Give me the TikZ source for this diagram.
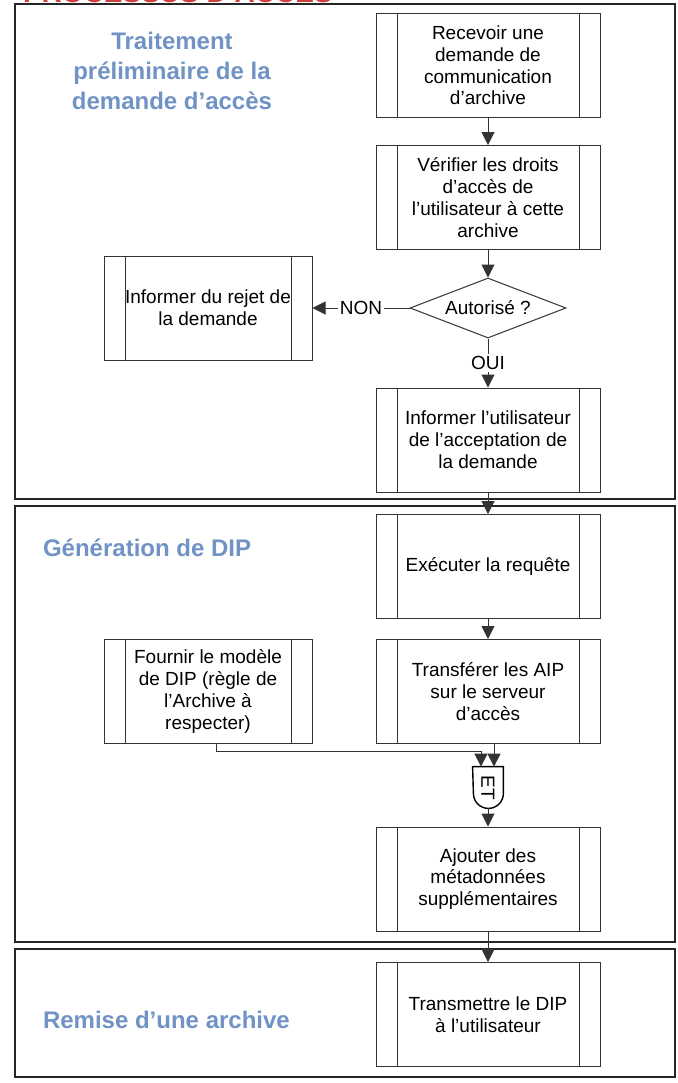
\documentclass[tikz,border=0pt]{standalone}
\usepackage{fontspec}
\setmainfont{Liberation Sans}
\usetikzlibrary{arrows.meta,shapes.geometric}
\definecolor{titleblue}{RGB}{112,146,196}
\definecolor{titlered}{RGB}{206,62,58}

\begin{document}
\begin{tikzpicture}[x=0.5pt,y=-0.5pt,
   every node/.style={font=\fontsize{9.5}{10.9}\selectfont},
   proc/.style={draw=black!80, line width=0.5pt, minimum width=112pt, minimum height=52pt, align=center, inner sep=0pt,
     path picture={\draw[black!80, line width=0.5pt]
       ([xshift=10.5pt]path picture bounding box.north west) -- ([xshift=10.5pt]path picture bounding box.south west)
       ([xshift=-10.5pt]path picture bounding box.north east) -- ([xshift=-10.5pt]path picture bounding box.south east);}},
   phase/.style={draw=black!85, line width=0.75pt},
   phasename/.style={font=\fontsize{12}{15}\selectfont\bfseries, text=titleblue, align=center},
   link/.style={draw=black!80, line width=0.5pt, -{Triangle[length=6.5pt,width=6.5pt]}}]
   \useasboundingbox (0,0) rectangle (677,1083);
   \node[anchor=base west, font=\fontsize{14}{16}\selectfont\bfseries, text=titlered] (title) at (16,2.5) {PROCESSUS D’ACCES};
   % phases
   \draw[phase] (15,4) rectangle (675,499);
   \draw[phase] (15,506) rectangle (675,942);
   \draw[phase] (15,949) rectangle (675,1077);
   \node[phasename] (p1) at (172,71) {Traitement\\préliminaire de la\\demande d’accès};
   \node[phasename, anchor=west] (p2) at (36,548) {Génération de DIP};
   \node[phasename, anchor=west] (p3) at (36,1020) {Remise d’une archive};
   % steps
   \node[proc] (rec) at (488,65.5) {Recevoir une\\demande de\\communication\\d’archive};
   \node[proc] (ver) at (488,197.5) {Vérifier les droits\\d’accès de\\l’utilisateur à cette\\archive};
   \node[draw=black!80, line width=0.5pt, diamond, aspect=2.6, minimum width=78pt, minimum height=30pt, inner sep=0pt] (aut) at (488,308) {Autorisé ?};
   \node[proc, minimum width=104pt] (rej) at (208,308) {Informer du rejet de\\la demande};
   \node[proc] (acc) at (488,440) {Informer l’utilisateur\\de l’acceptation de\\la demande};
   \node[proc] (exe) at (488,566.5) {Exécuter la requête};
   \node[proc] (tra) at (488,691.5) {Transférer les AIP\\sur le serveur\\d’accès};
   \node[proc, minimum width=104pt] (fou) at (208,691.5) {Fournir le modèle\\de DIP (règle de\\l’Archive à\\respecter)};
   \node[inner sep=0pt, minimum width=15pt, minimum height=20.5pt] (et) at (488,787.5) {\rotatebox{-90}{ET}};
   \draw[black, line width=0.7pt] (et.north west) -- (et.north east) -- ([yshift=7.5pt]et.south east)
      arc[start angle=0, end angle=-180, radius=7.5pt] -- cycle;
   \node[proc] (ajo) at (488,879) {Ajouter des\\métadonnées\\supplémentaires};
   \node[proc] (trm) at (488,1014.5) {Transmettre le DIP\\à l’utilisateur};
   % links
   \draw[link] (rec) -- (ver);
   \draw[link] (ver) -- (aut);
   \draw[link] (aut) -- node[fill=white, inner sep=1pt] (non) {NON} (rej);
   \draw[link] (aut) -- node[fill=white, inner sep=1pt] (oui) {OUI} (acc);
   \draw[link] (acc) -- (exe);
   \draw[link] (exe) -- (tra);
   \draw[link] ([xshift=4pt]fou.south) -- ++(0,7) -| ([xshift=-3.5pt]et.north);
   \draw[link] ([xshift=3pt]tra.south) -- ([xshift=3pt]et.north);
   \draw[link] (et) -- (ajo);
   \draw[link] (ajo) -- (trm);
\end{tikzpicture}
\end{document}
